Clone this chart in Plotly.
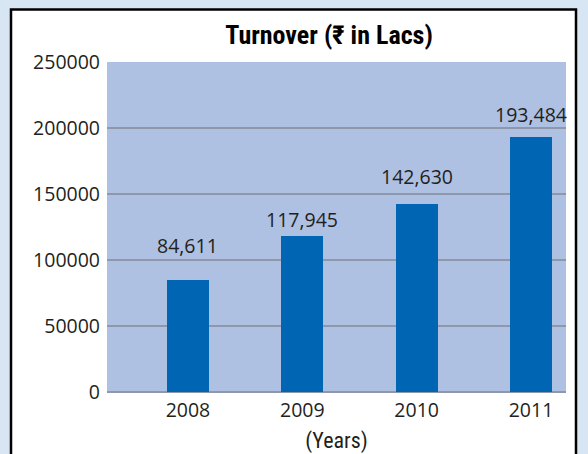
import plotly.graph_objects as go

years = ["2008", "2009", "2010", "2011"]
turnover = [84611, 117945, 142630, 193484]
value_labels = ["84,611", "117,945", "142,630", "193,484"]
y_ticks = [0, 50000, 100000, 150000, 200000, 250000]

W, H = 588, 454
L, R, T, B = 107, 22, 62, 62
pw, ph = W - L - R, H - T - B

def px_x(x):
    return (x - L) / pw

def px_y(y):
    return (H - B - y) / ph

label_shift = [35, 17, 27, 22]

fig = go.Figure()
fig.add_trace(go.Bar(
    x=years, y=turnover, width=0.367,
    marker=dict(color="#0066B3", line=dict(width=0)),
    hoverinfo="x+y",
))

for i, (v, t, s) in enumerate(zip(turnover, value_labels, label_shift)):
    fig.add_annotation(x=i, y=v, xref="x", yref="y", text=t, showarrow=False, yanchor="middle",
                       yshift=s, font=dict(family="Open Sans", size=19.5, color="#231F20"))

# white panel with black border
fig.add_shape(type="rect", xref="paper", yref="paper",
              x0=px_x(11), x1=px_x(576), y0=px_y(470), y1=px_y(9.5),
              line=dict(color="black", width=2.5), fillcolor="white", layer="below")
# plot area background
fig.add_shape(type="rect", xref="paper", yref="paper", x0=0, x1=1, y0=0, y1=1,
              line=dict(width=0), fillcolor="#AFC1E3", layer="below")

cond = "Liberation Sans Narrow, Roboto Condensed, Arial Narrow, Roboto, sans-serif"

fig.update_layout(
    width=W, height=H,
    margin=dict(l=L, r=R, t=T, b=B, autoexpand=False),
    paper_bgcolor="#D8E6F3",
    plot_bgcolor="#AFC1E3",
    showlegend=False,
    bargap=0,
    title=dict(text="<b>Turnover (₹ in Lacs)</b>", x=px_x(329), xref="paper", xanchor="center",
               y=1 - 35 / H, yref="container", yanchor="middle",
               font=dict(family=cond, size=26, color="black")),
    xaxis=dict(type="category", range=[-0.708, 3.306], showgrid=False, zeroline=False,
               showline=False, ticks="", ticklabelstandoff=4, automargin=False,
               tickfont=dict(family="Open Sans", size=19.5, color="#231F20"),
               title=dict(text="(Years)", standoff=11,
                          font=dict(family=cond, size=22, color="#231F20"))),
    yaxis=dict(range=[0, 250000], tickvals=y_ticks, ticktext=[str(v) for v in y_ticks],
               showgrid=True, gridcolor="#8E98AA", gridwidth=1.5,
               zeroline=True, zerolinecolor="#8E98AA", zerolinewidth=1.5,
               showline=False, ticks="", ticklabelstandoff=6, automargin=False,
               tickfont=dict(family="Open Sans", size=19.5, color="#231F20")),
)

fig.write_html("out.html", config={"displayModeBar": False},
               post_script="document.body.style.margin='0';document.body.style.overflow='hidden';")
